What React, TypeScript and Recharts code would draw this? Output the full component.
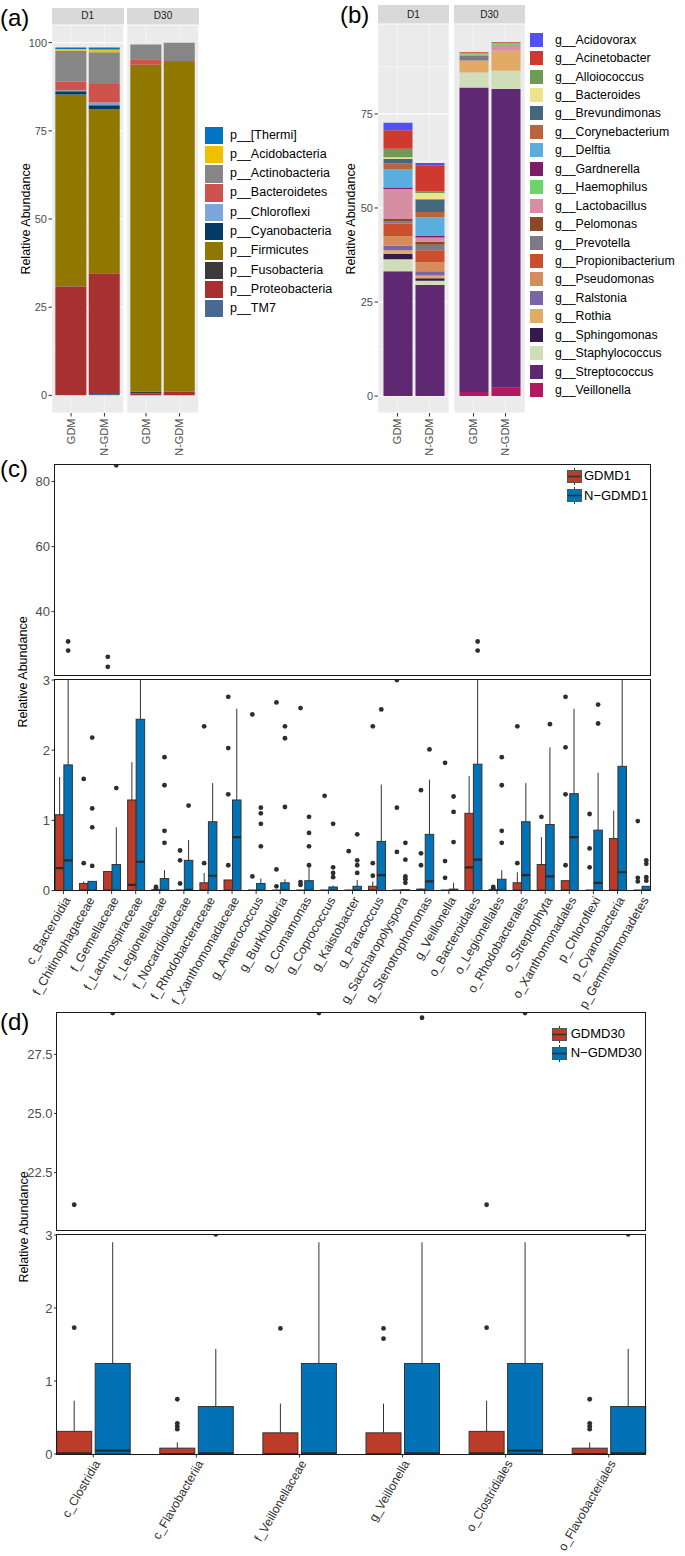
import React from 'react'
import { BarChart, Bar, XAxis, YAxis, CartesianGrid } from 'recharts'

const FONT = '"Liberation Sans", Arial, Helvetica, sans-serif'
const AXIS_GREY = '#4d4d4d'
const INK = '#2e2e2e'

// ---------- (a) phylum level, stacked ----------
const PHYLA = ['p__[Thermi]', 'p__Acidobacteria', 'p__Actinobacteria', 'p__Bacteroidetes', 'p__Chloroflexi', 'p__Cyanobacteria', 'p__Firmicutes', 'p__Fusobacteria', 'p__Proteobacteria', 'p__TM7']
const PHYLA_COLORS = ['#0073C2', '#EFC000', '#868686', '#CD534C', '#7AA6DC', '#003C67', '#8F7700', '#3B3B3B', '#A73030', '#4A6990']
const PHYLA_D1_GDM = [0.4, 0.5, 8.8, 2.4, 0.3, 0.9, 54.4, 0.05, 30.8, 0.05]
const PHYLA_D1_NGDM = [0.6, 0.8, 9.0, 5.2, 0.8, 1.1, 46.5, 0.15, 34.1, 0.4]
const PHYLA_D30_GDM = [0, 0, 4.2, 1.6, 0, 0, 92.7, 0.5, 0.5, 0]
const PHYLA_D30_NGDM = [0, 0, 5.2, 0.3, 0, 0, 93.5, 0, 1.0, 0]

// ---------- (b) genus level, stacked ----------
const GENERA = ['g__Acidovorax', 'g__Acinetobacter', 'g__Alloiococcus', 'g__Bacteroides', 'g__Brevundimonas', 'g__Corynebacterium', 'g__Delftia', 'g__Gardnerella', 'g__Haemophilus', 'g__Lactobacillus', 'g__Pelomonas', 'g__Prevotella', 'g__Propionibacterium', 'g__Pseudomonas', 'g__Ralstonia', 'g__Rothia', 'g__Sphingomonas', 'g__Staphylococcus', 'g__Streptococcus', 'g__Veillonella']
const GENERA_COLORS = ['#5050F5', '#D0392E', '#6F9A52', '#EFE38A', '#43677F', '#B9643B', '#5AAEDD', '#7A1E68', '#6BD46B', '#D68FA2', '#8B4726', '#7F7889', '#C9502A', '#D58B5A', '#7965A8', '#E2AA67', '#361A4E', '#CFDDB8', '#5E2872', '#B0195F']
const GENERA_D1_GDM = [2.0, 4.9, 2.3, 0.4, 1.2, 1.6, 4.8, 0.4, 0, 8.0, 0.6, 0.6, 3.4, 2.5, 1.2, 0.9, 1.5, 3.2, 33.1, 0.05]
const GENERA_D1_NGDM = [0.6, 7.0, 0.4, 1.6, 3.4, 1.4, 5.0, 0.4, 0, 1.1, 0.8, 1.5, 3.2, 2.4, 1.1, 0.7, 0.7, 1.1, 29.5, 0.05]
const GENERA_D30_GDM = [0, 0.3, 0, 0, 0, 0, 0, 0, 0.4, 0.3, 0, 1.2, 0, 0, 0, 3.2, 0, 4.0, 80.9, 1.1]
const GENERA_D30_NGDM = [0, 0.2, 0, 0, 0, 0, 0, 0, 0.6, 1.5, 0, 0, 0, 0, 0, 5.3, 0, 4.9, 79.4, 2.2]

const SAMPLES = ['GDM', 'N-GDM']
const MINOR_TICKS = [12.5, 37.5, 62.5, 87.5]

// ---------- (c) D1 differential taxa, boxplots ----------
const C_CATS = ['c_Bacteroidia', 'f_Chitinophagaceae', 'f_Gemellaceae', 'f_Lachnospiraceae', 'f_Legionellaceae', 'f_Nocardioidaceae', 'f_Rhodobacteraceae', 'f_Xanthomonadaceae', 'g_Anaerococcus', 'g_Burkholderia', 'g_Comamonas', 'g_Coprococcus', 'g_Kaistobacter', 'g_Paracoccus', 'g_Saccharopolyspora', 'g_Stenotrophomonas', 'g_Veillonella', 'o_Bacteroidales', 'o_Legionellales', 'o_Rhodobacterales', 'o_Streptophyta', 'o_Xanthomonadales', 'p_Chloroflexi', 'p_Cyanobacteria', 'p_Gemmatimonadetes']
const C_GDM_Q1 = [0, 0, 0, 0, 0, 0, 0, 0, 0, 0, 0, 0, 0, 0, 0, 0, 0, 0, 0, 0, 0, 0, 0, 0, 0]
const C_GDM_MED = [0.32, 0, 0, 0.08, 0, 0, 0, 0, 0, 0, 0, 0, 0, 0, 0, 0, 0, 0.33, 0, 0, 0, 0, 0, 0, 0]
const C_GDM_Q3 = [1.08, 0.1, 0.27, 1.29, 0.01, 0, 0.11, 0.15, 0, 0, 0, 0, 0, 0.06, 0, 0.02, 0, 1.1, 0.01, 0.11, 0.37, 0.14, 0, 0.74, 0]
const C_GDM_HI = [1.62, 0.13, 0.27, 1.83, 0.02, 0.01, 0.25, 0.15, 0, 0.01, 0, 0, 0, 0.13, 0, 0.03, 0, 1.63, 0.02, 0.26, 0.76, 0.14, 0, 1.14, 0]
const C_GDM_OUT = [[], [1.59, 0.39], [26.1, 23.0], [], [0.05, 0.03], [0.57, 0.43, 0.1], [2.34, 0.39], [2.76, 2.03, 1.37, 0.36], [2.51, 0.2], [2.68, 0.3, 0.06], [2.6, 0.12, 0.08], [1.35], [0.56], [2.34, 0.39, 0.21], [3.0, 1.18, 0.55], [1.43, 0.53, 0.36], [1.82, 0.42, 0.18], [], [0.05, 0.03], [2.34, 0.39], [1.05], [2.76, 2.04, 1.37, 0.36], [1.09, 0.6, 0.33], [], [0.99, 0.18, 0.13]]
const C_NGDM_Q1 = [0, 0, 0, 0, 0, 0, 0, 0, 0, 0, 0, 0, 0, 0, 0, 0, 0, 0, 0, 0, 0, 0, 0, 0, 0]
const C_NGDM_MED = [0.43, 0, 0, 0.41, 0, 0.01, 0.21, 0.76, 0, 0, 0, 0, 0, 0.22, 0, 0.13, 0, 0.44, 0, 0.22, 0.2, 0.76, 0.11, 0.26, 0]
const C_NGDM_Q3 = [1.79, 0.13, 0.37, 2.44, 0.17, 0.43, 0.98, 1.29, 0.1, 0.11, 0.14, 0.05, 0.06, 0.7, 0.01, 0.8, 0.02, 1.8, 0.16, 0.98, 0.94, 1.38, 0.86, 1.77, 0.06]
const C_NGDM_HI = [3.5, 0.13, 0.9, 3.5, 0.29, 0.72, 1.53, 2.59, 0.17, 0.16, 0.33, 0.07, 0.15, 1.51, 0.02, 1.58, 0.11, 3.5, 0.29, 1.53, 2.04, 2.59, 1.68, 3.5, 0.06]
const C_NGDM_OUT = [[30.8, 28.0], [2.18, 1.17, 0.9, 0.35], [1.46, 85.0], [], [1.9, 1.5, 0.85, 0.68], [1.21], [], [], [1.18, 1.1, 0.95, 0.63], [2.34, 2.17, 1.19], [1.05, 0.82, 0.63, 0.36], [0.95, 0.33, 0.25, 0.19], [0.8, 0.43, 0.36, 0.25], [2.58], [0.68, 0.44, 0.2, 0.16, 0.11], [2.01], [1.34, 1.12, 0.69], [30.8, 28.0], [1.9, 1.5, 0.85, 0.68], [], [2.37], [], [2.65, 2.38], [], [0.43, 0.38, 0.19, 0.14]]

// ---------- (d) D30 differential taxa, boxplots ----------
const D_CATS = ['c_Clostridia', 'c_Flavobacteriia', 'f_Veillonellaceae', 'g_Veillonella', 'o_Clostridiales', 'o_Flavobacteriales']
const D_GDM_Q1 = [0, 0, 0, 0, 0, 0]
const D_GDM_MED = [0.01, 0, 0, 0, 0.01, 0]
const D_GDM_Q3 = [0.31, 0.08, 0.29, 0.29, 0.31, 0.08]
const D_GDM_HI = [0.73, 0.16, 0.69, 0.69, 0.73, 0.16]
const D_GDM_OUT = [[1.73, 21.14], [0.75, 0.42, 0.38, 0.34], [1.72], [1.72, 1.58], [1.73, 21.14], [0.75, 0.42, 0.38, 0.34]]
const D_NGDM_Q1 = [0, 0, 0, 0, 0, 0]
const D_NGDM_MED = [0.045, 0.01, 0.01, 0.01, 0.045, 0.01]
const D_NGDM_Q3 = [1.24, 0.65, 1.24, 1.24, 1.24, 0.65]
const D_NGDM_HI = [2.9, 1.44, 2.9, 2.9, 2.9, 1.44]
const D_NGDM_OUT = [[29.25], [3.01], [29.25], [29.05], [29.25], [3.01]]

const BOX_COLORS = ['#BC3C29', '#0072B5']

const stackRows = (taxa: string[], cols: number[][]) =>
  SAMPLES.map((s, j) => {
    const r: any = { sample: s }
    taxa.forEach((t, i) => { r[t] = cols[j][i] })
    return r
  })

const boxRows = (cats: string[], g: any[][], n: any[][]) =>
  cats.map((name, i) => ({
    name,
    g: { q1: g[0][i], med: g[1][i], q3: g[2][i], hi: g[3][i], out: g[4][i] },
    n: { q1: n[0][i], med: n[1][i], q3: n[2][i], hi: n[3][i], out: n[4][i] },
  }))

const C_ROWS = boxRows(C_CATS, [C_GDM_Q1, C_GDM_MED, C_GDM_Q3, C_GDM_HI, C_GDM_OUT], [C_NGDM_Q1, C_NGDM_MED, C_NGDM_Q3, C_NGDM_HI, C_NGDM_OUT])
const D_ROWS = boxRows(D_CATS, [D_GDM_Q1, D_GDM_MED, D_GDM_Q3, D_GDM_HI, D_GDM_OUT], [D_NGDM_Q1, D_NGDM_MED, D_NGDM_Q3, D_NGDM_HI, D_NGDM_OUT])

// vertical sample labels under the stacked bars
const VTick = (p: any) => (
  <text x={p.x} y={p.y} transform={`rotate(-90 ${p.x} ${p.y})`} textAnchor="end" dy="0.35em" fontSize={11} fill={AXIS_GREY} fontFamily={FONT}>
    {p.payload.value}
  </text>
)

// slanted taxon labels under the boxplots
const AngTick = (p: any) => (
  <text x={p.x} y={p.y} transform={`rotate(-60 ${p.x} ${p.y})`} textAnchor="end" dy="0.7em" fontSize={p.fs} fill={INK} fontFamily={FONT}>
    {p.payload.value}
  </text>
)

function PanelTag({ left, top, text }: any) {
  return <div style={{ position: 'absolute', left, top, fontSize: 24, lineHeight: '24px', color: '#000' }}>{text}</div>
}

function AxisTitle({ cx, cy }: any) {
  return (
    <div style={{ position: 'absolute', left: cx - 100, top: cy - 7, width: 200, height: 14, lineHeight: '14px', fontSize: 12.5, textAlign: 'center', transform: 'rotate(-90deg)', color: '#000' }}>
      Relative Abundance
    </div>
  )
}

function Strip({ left, top, width, height, label }: any) {
  return (
    <div style={{ position: 'absolute', left, top, width, height, background: '#D9D9D9', fontSize: 10, lineHeight: `${height}px`, textAlign: 'center', color: '#1a1a1a' }}>
      {label}
    </div>
  )
}

function StackFacet({ left, plotLeft, plotTop, plotW, plotH, axisH, rows, taxa, colors, domain, ticks, showY, barSize, pad }: any) {
  const order = taxa.map((t: string, i: number) => ({ t, c: colors[i] })).reverse()
  return (
    <div style={{ position: 'absolute', left, top: 0 }}>
      <BarChart width={plotLeft + plotW} height={plotTop + plotH + axisH} data={rows} margin={{ top: plotTop, right: 0, bottom: 0, left: 0 }} barSize={barSize}>
        {/* panel background, vertical lines and thin minor lines */}
        <CartesianGrid fill="#EBEBEB" stroke="#FFFFFF" strokeWidth={0.5} horizontalValues={MINOR_TICKS} />
        {/* major lines */}
        <CartesianGrid stroke="#FFFFFF" strokeWidth={1.1} vertical={false} />
        <XAxis dataKey="sample" interval={0} height={axisH} padding={{ left: pad, right: pad }} axisLine={false} tickSize={3.5} tickMargin={2} tickLine={{ stroke: '#333' }} tick={(p: any) => <VTick {...p} />} />
        {showY ? (
          <YAxis width={plotLeft} type="number" domain={domain} ticks={ticks} allowDataOverflow interval={0} axisLine={false} tickSize={3.5} tickMargin={1.5} tickLine={{ stroke: '#333' }} tick={{ fontSize: 11, fill: AXIS_GREY, fontFamily: FONT }} />
        ) : (
          <YAxis width={0} type="number" domain={domain} ticks={ticks} allowDataOverflow interval={0} axisLine={false} tickLine={false} tick={false} />
        )}
        {order.map((o: any) => (
          <Bar key={o.t} dataKey={o.t} stackId="s" fill={o.c} isAnimationActive={false} />
        ))}
      </BarChart>
    </div>
  )
}

function KeyLegend({ left, top, pitch, keyW, keyH, textLeft, fontSize, items, colors }: any) {
  return (
    <>
      {items.map((name: string, i: number) => (
        <div key={name}>
          <div style={{ position: 'absolute', left, top: top + i * pitch, width: keyW, height: keyH, background: colors[i] }} />
          <div style={{ position: 'absolute', left: textLeft, top: top + i * pitch, height: keyH, lineHeight: `${keyH}px`, fontSize, color: '#000', whiteSpace: 'nowrap' }}>{name}</div>
        </div>
      ))}
    </>
  )
}

// draws a full boxplot inside the band of a range bar; pixel positions come from the bar's own y/height
const makeBox = (chartId: string, group: string, color: string, domain: number[], ref: number[]) => (props: any) => {
  const { x, y, width, height, payload, index } = props
  const st = payload[group]
  const py = (v: number) => y + (height * (ref[1] - v)) / (ref[1] - ref[0])
  const yTop = py(domain[1])
  const yBot = py(domain[0])
  const cx = x + width / 2
  const cid = `${chartId}-${group}-${index}`
  const bTop = py(st.q3)
  const bBot = py(st.q1)
  return (
    <g>
      <defs>
        <clipPath id={cid}>
          <rect x={x - 10} y={yTop} width={width + 20} height={yBot - yTop} />
        </clipPath>
      </defs>
      <g clipPath={`url(#${cid})`}>
        <line x1={cx} x2={cx} y1={py(st.hi)} y2={bTop} stroke="#333" strokeWidth={1} />
        {bBot - bTop > 0.01 && <rect x={x} y={bTop} width={width} height={bBot - bTop} fill={color} stroke="#333" strokeWidth={1} />}
        <line x1={x} x2={x + width} y1={py(st.med)} y2={py(st.med)} stroke="#2a2a2a" strokeWidth={2.2} />
        {st.out.map((v: number, k: number) => (
          <circle key={k} cx={cx} cy={py(v)} r={2.4} fill={INK} />
        ))}
      </g>
    </g>
  )
}

function BoxPanel({ id, top, plotLeft, plotW, plotH, rightM, axisH, rows, domain, ticks, refRange, pad, barSize, barGap, showX, labelSize, tickSize, fmt }: any) {
  return (
    <>
      <div style={{ position: 'absolute', left: 0, top }}>
        <BarChart width={plotLeft + plotW + rightM} height={plotH + (showX ? axisH : 0)} data={rows} margin={{ top: 0, right: rightM, bottom: 0, left: 0 }} barSize={barSize} barGap={barGap}>
          <XAxis dataKey="name" type="category" interval={0} hide={!showX} height={showX ? axisH : 0} padding={{ left: pad, right: pad }} axisLine={false} tickSize={3.5} tickMargin={1.5} tickLine={{ stroke: '#333' }} tick={(p: any) => <AngTick {...p} fs={labelSize} />} />
          <YAxis width={plotLeft} type="number" domain={domain} ticks={ticks} allowDataOverflow interval={0} axisLine={false} tickSize={3} tickMargin={1.5} tickLine={{ stroke: '#333' }} tick={{ fontSize: tickSize, fill: AXIS_GREY, fontFamily: FONT }} tickFormatter={fmt} />
          <Bar dataKey={() => refRange} shape={makeBox(id, 'g', BOX_COLORS[0], domain, refRange)} isAnimationActive={false} />
          <Bar dataKey={() => [refRange[0], refRange[1]]} shape={makeBox(id, 'n', BOX_COLORS[1], domain, refRange)} isAnimationActive={false} />
        </BarChart>
      </div>
      <div style={{ position: 'absolute', left: plotLeft - 0.7, top: top - 0.7, width: plotW + 1.4, height: plotH + 1.4, border: '1.4px solid #1a1a1a', boxSizing: 'border-box', pointerEvents: 'none' }} />
    </>
  )
}

function BoxLegend({ left, top, pitch, textLeft, labels }: any) {
  return (
    <>
      {labels.map((name: string, i: number) => (
        <div key={name}>
          <svg style={{ position: 'absolute', left, top: top + i * pitch - 8.5 }} width={15} height={17}>
            <line x1={7.5} x2={7.5} y1={0} y2={17} stroke="#333" strokeWidth={1} />
            <rect x={0.5} y={2.5} width={14} height={12} fill={BOX_COLORS[i]} stroke="#555" strokeWidth={1} />
            <line x1={0.5} x2={14.5} y1={8.5} y2={8.5} stroke="#333" strokeWidth={1.6} />
          </svg>
          <div style={{ position: 'absolute', left: textLeft, top: top + i * pitch - 8, height: 16, lineHeight: '16px', fontSize: 13, color: '#000', whiteSpace: 'nowrap' }}>{name}</div>
        </div>
      ))}
    </>
  )
}

const fmt1 = (v: number) => v.toFixed(1)
const fmt0 = (v: number) => String(v)

export default function App() {
  return (
    <div style={{ position: 'absolute', left: 0, top: 0, width: 685, height: 1556, background: '#fff', fontFamily: FONT, overflow: 'hidden' }}>
      <style>{'.recharts-surface{overflow:visible}'}</style>
      {/* (a) */}
      <PanelTag left={0} top={6} text="(a)" />
      <AxisTitle cx={25.5} cy={218.5} />
      <Strip left={52} top={8.3} width={71.5} height={16.7} label="D1" />
      <Strip left={127.3} top={8.3} width={71.5} height={16.7} label="D30" />
      <StackFacet left={0} plotLeft={52} plotTop={25} plotW={71.5} plotH={388} axisH={47} rows={stackRows(PHYLA, [PHYLA_D1_GDM, PHYLA_D1_NGDM])} taxa={PHYLA} colors={PHYLA_COLORS} domain={[-5, 105]} ticks={[0, 25, 50, 75, 100]} showY barSize={31} pad={2.35} />
      <StackFacet left={127.3} plotLeft={0} plotTop={25} plotW={71.5} plotH={388} axisH={47} rows={stackRows(PHYLA, [PHYLA_D30_GDM, PHYLA_D30_NGDM])} taxa={PHYLA} colors={PHYLA_COLORS} domain={[-5, 105]} ticks={[0, 25, 50, 75, 100]} showY={false} barSize={31} pad={2.35} />
      <KeyLegend left={205} top={126.7} pitch={19.26} keyW={17.7} keyH={17.3} textLeft={230} fontSize={12.5} items={PHYLA} colors={PHYLA_COLORS} />

      {/* (b) */}
      <PanelTag left={340} top={2.5} text="(b)" />
      <AxisTitle cx={351} cy={218.5} />
      <Strip left={378} top={5} width={71} height={19} label="D1" />
      <Strip left={454} top={5} width={71} height={19} label="D30" />
      <StackFacet left={340} plotLeft={38} plotTop={24} plotW={71} plotH={389} axisH={47} rows={stackRows(GENERA, [GENERA_D1_GDM, GENERA_D1_NGDM])} taxa={GENERA} colors={GENERA_COLORS} domain={[-4.5, 98.9]} ticks={[0, 25, 50, 75]} showY barSize={29} pad={3.5} />
      <StackFacet left={454} plotLeft={0} plotTop={24} plotW={71} plotH={389} axisH={47} rows={stackRows(GENERA, [GENERA_D30_GDM, GENERA_D30_NGDM])} taxa={GENERA} colors={GENERA_COLORS} domain={[-4.5, 98.9]} ticks={[0, 25, 50, 75]} showY={false} barSize={29} pad={3.5} />
      <KeyLegend left={530} top={32.7} pitch={18.44} keyW={12.7} keyH={14} textLeft={555} fontSize={12.3} items={GENERA} colors={GENERA_COLORS} />

      {/* (c) */}
      <PanelTag left={0} top={457} text="(c)" />
      <AxisTitle cx={23} cy={672} />
      <BoxPanel id="c-top" top={465} plotLeft={54.5} plotW={596} plotH={210} rightM={34.5} axisH={0} rows={C_ROWS} domain={[20.5, 85.1]} ticks={[40, 60, 80]} refRange={[30, 60]} pad={-3.125} barSize={8.5} barGap={0} showX={false} labelSize={12.5} tickSize={13} fmt={fmt0} />
      <BoxPanel id="c-bot" top={679.5} plotLeft={54.5} plotW={596} plotH={210.5} rightM={34.5} axisH={120} rows={C_ROWS} domain={[0, 3]} ticks={[0, 1, 2, 3]} refRange={[0, 1]} pad={-3.125} barSize={8.5} barGap={0} showX labelSize={12.5} tickSize={13} fmt={fmt0} />
      <BoxLegend left={566.5} top={476.3} pitch={19.3} textLeft={584} labels={['GDMD1', 'N\u2212GDMD1']} />

      {/* (d) */}
      <PanelTag left={0} top={1010} text="(d)" />
      <AxisTitle cx={24} cy={1227} />
      <BoxPanel id="d-top" top={1012.7} plotLeft={57} plotW={588} plotH={218} rightM={40} axisH={0} rows={D_ROWS} domain={[20.03, 29.25]} ticks={[22.5, 25, 27.5]} refRange={[22, 26]} pad={-15.3} barSize={35} barGap={3.5} showX={false} labelSize={12.2} tickSize={13} fmt={fmt1} />
      <BoxPanel id="d-bot" top={1235} plotLeft={57} plotW={588} plotH={219} rightM={40} axisH={100} rows={D_ROWS} domain={[0, 3]} ticks={[0, 1, 2, 3]} refRange={[0, 1]} pad={-15.3} barSize={35} barGap={3.5} showX labelSize={12.2} tickSize={13} fmt={fmt0} />
      <BoxLegend left={551.7} top={1034} pitch={19.3} textLeft={570.7} labels={['GDMD30', 'N\u2212GDMD30']} />
    </div>
  )
}
